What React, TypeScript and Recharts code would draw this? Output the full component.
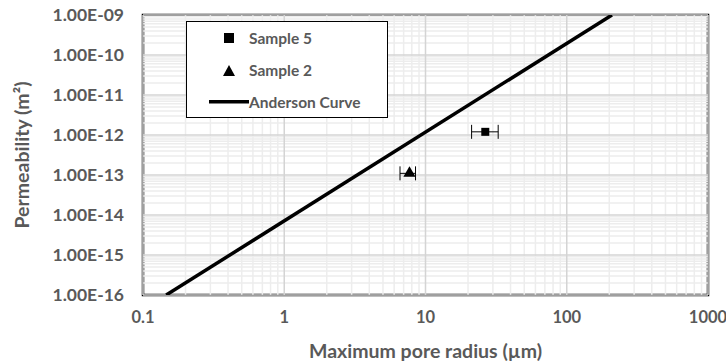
import {
  ComposedChart,
  XAxis,
  YAxis,
  Scatter,
  ErrorBar,
  ReferenceLine,
  ReferenceArea,
} from 'recharts';

const xTicks = [0.1, 1, 10, 100, 1000];
const yTicks = [1e-16, 1e-15, 1e-14, 1e-13, 1e-12, 1e-11, 1e-10, 1e-9];
const minorSteps = [2, 3, 4, 5, 6, 7, 8, 9];

const sample5 = [{ r: 26.5, k: 1.2e-12, rErr: [5.3, 6.2] }];
const sample2 = [{ r: 7.7, k: 1.1e-13, rErr: [1.1, 0.8] }];
const anderson = [
  { r: 0.146, k: 1e-16 },
  { r: 209, k: 1e-9 },
];

const seriesNames = ['Sample 5', 'Sample 2', 'Anderson Curve'];

const FONT = 'Lato, "DejaVu Sans", sans-serif';
const GREY = '#595959';

const xMinor = xTicks.slice(0, -1).flatMap((d) => minorSteps.map((m) => d * m));
const yMinor = yTicks.slice(0, -1).flatMap((d) => minorSteps.map((m) => d * m));

function fmtExp(v: number) {
  const [m, e] = v.toExponential(2).split('e');
  const n = Math.abs(parseInt(e, 10));
  return `${m}E${parseInt(e, 10) < 0 ? '-' : '+'}${n < 10 ? '0' + n : n}`;
}

function LegendBox() {
  const row = { display: 'flex', alignItems: 'center', height: 32 } as const;
  const mark = {
    width: 62,
    display: 'flex',
    justifyContent: 'flex-end',
    paddingRight: 15,
    boxSizing: 'border-box',
  } as const;
  const txt = { fontFamily: FONT, fontWeight: 700, fontSize: 15.5, color: GREY };
  return (
    <div
      style={{
        position: 'absolute',
        left: 186,
        top: 21,
        width: 202,
        height: 97,
        border: '1.5px solid #000',
        background: '#fff',
        boxSizing: 'border-box',
      }}
    >
      <div style={row}>
        <div style={mark}>
          <svg width="10" height="10">
            <rect width="10" height="10" fill="#000" />
          </svg>
        </div>
        <span style={txt}>{seriesNames[0]}</span>
      </div>
      <div style={row}>
        <div style={{ ...mark, paddingRight: 14 }}>
          <svg width="12" height="11">
            <polygon points="6,0 12,11 0,11" fill="#000" />
          </svg>
        </div>
        <span style={txt}>{seriesNames[1]}</span>
      </div>
      <div style={row}>
        <div style={{ ...mark, paddingRight: 0 }}>
          <svg width="40" height="4">
            <rect width="40" height="3.5" fill="#000" />
          </svg>
        </div>
        <span style={txt}>{seriesNames[2]}</span>
      </div>
    </div>
  );
}

export default function App() {
  const xTick = { fill: GREY, fontSize: 16.5, fontWeight: 700, fontFamily: FONT };
  const yTick = { fill: GREY, fontSize: 17.5, fontWeight: 700, fontFamily: FONT };
  const title = { fill: GREY, fontSize: 19.5, fontWeight: 700, fontFamily: FONT };
  return (
    <div style={{ position: 'absolute', left: 0, top: 0, width: 726, height: 362, background: '#fff' }}>
      <ComposedChart width={726} height={362} margin={{ top: 15, right: 18, left: 0, bottom: 0 }}>
        <XAxis
          dataKey="r"
          type="number"
          scale="log"
          domain={[0.1, 1000]}
          ticks={xTicks}
          interval={0}
          allowDataOverflow
          axisLine={false}
          tickLine={false}
          tickSize={0}
          tickMargin={16}
          height={67}
          tick={xTick}
          tickFormatter={(v: number) => String(v)}
          label={{
            value: 'Maximum pore radius (µm)',
            position: 'insideBottom',
            offset: 4,
            style: title,
          }}
        />
        <YAxis
          dataKey="k"
          type="number"
          scale="log"
          domain={[1e-16, 1e-9]}
          ticks={yTicks}
          interval={0}
          allowDataOverflow
          axisLine={false}
          tickLine={false}
          tickSize={0}
          tickMargin={19}
          width={143}
          tick={yTick}
          tickFormatter={fmtExp}
          label={{
            value: 'Permeability (m²)',
            angle: -90,
            position: 'insideLeft',
            offset: 22,
            style: { ...title, textAnchor: 'middle' },
          }}
        />
        {xMinor.map((v) => (
          <ReferenceLine key={'xm' + v} x={v} stroke="#ededed" strokeWidth={1.5} />
        ))}
        {yMinor.map((v) => (
          <ReferenceLine key={'ym' + v} y={v} stroke="#ededed" strokeWidth={1.5} />
        ))}
        {xTicks.map((v) => (
          <ReferenceLine key={'xM' + v} x={v} stroke="#d4d4d4" strokeWidth={1.5} />
        ))}
        {yTicks.map((v) => (
          <ReferenceLine key={'yM' + v} y={v} stroke="#d4d4d4" strokeWidth={1.5} />
        ))}
        <ReferenceArea
          x1={0.1}
          x2={1000}
          y1={1e-16}
          y2={1e-9}
          fill="none"
          fillOpacity={0}
          stroke="#000"
          strokeWidth={2.5}
        />
        <Scatter
          name={seriesNames[2]}
          data={anderson}
          line={{ stroke: '#000', strokeWidth: 3.5 }}
          shape={() => <g />}
          isAnimationActive={false}
        />
        <Scatter name={seriesNames[0]} data={sample5} fill="#000" shape="square" isAnimationActive={false}>
          <ErrorBar dataKey="rErr" direction="x" width={7} stroke="#000" strokeWidth={1} />
        </Scatter>
        <Scatter name={seriesNames[1]} data={sample2} fill="#000" shape="triangle" isAnimationActive={false}>
          <ErrorBar dataKey="rErr" direction="x" width={7} stroke="#000" strokeWidth={1} />
        </Scatter>
      </ComposedChart>
      <LegendBox />
    </div>
  );
}
